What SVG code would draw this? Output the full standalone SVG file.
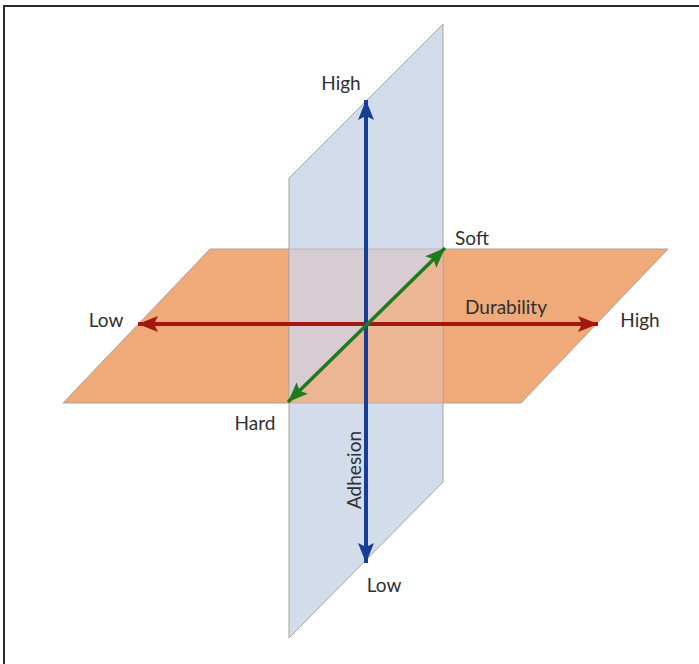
<svg xmlns="http://www.w3.org/2000/svg" width="699" height="664" viewBox="0 0 699 664">
<style>
.lbl{font-family:"Lato","Liberation Sans","DejaVu Sans",sans-serif;font-size:19px;fill:#2f2f2f;text-anchor:middle}
.edge{stroke:#a9a39e;stroke-width:1;stroke-linejoin:round}
</style>
<defs>
<marker id="ar" viewBox="0 0 20 16" refX="20" refY="8" markerWidth="20" markerHeight="16" markerUnits="userSpaceOnUse" orient="auto-start-reverse"><path d="M0,0 L20,8 L0,16 L4,8 Z" fill="#a3170f"/></marker>
<marker id="ab" viewBox="0 0 20 16" refX="20" refY="8" markerWidth="20" markerHeight="16" markerUnits="userSpaceOnUse" orient="auto-start-reverse"><path d="M0,0 L20,8 L0,16 L4,8 Z" fill="#173d97"/></marker>
<marker id="ag" viewBox="0 0 20 16" refX="20" refY="8" markerWidth="20" markerHeight="16" markerUnits="userSpaceOnUse" orient="auto-start-reverse"><path d="M0,0 L20,8 L0,16 L4,8 Z" fill="#1d7a1d"/></marker>
</defs>
<rect width="699" height="664" fill="#ffffff"/>
<path d="M4,664 L4,6 L699,6" fill="none" stroke="#2b2b2b" stroke-width="2"/>
<g id="orange-plane">
<polygon points="210,249 668,249 521,403 63,403" fill="#f0aa7a" class="edge"/>
</g>
<g id="blue-plane">
<polygon points="289,178 443,24 443,482 289,638" fill="#d3dcea" class="edge"/>
</g>
<g id="overlap">
<polygon points="289,249 443,249 289,403" fill="#d8ccd3"/>
<polygon points="443,249 443,403 289,403" fill="#ecb694"/>
<path d="M289,249 L443,249 M289,403 L443,403 M289,249 L289,403 M443,249 L443,403" class="edge" fill="none" opacity="0.6"/>
</g>
<g id="connectors">
<line x1="138" y1="324" x2="598" y2="324" stroke="#a3170f" stroke-width="4" marker-start="url(#ar)" marker-end="url(#ar)"/>
<line x1="366" y1="100" x2="366" y2="563" stroke="#173d97" stroke-width="4" marker-start="url(#ab)" marker-end="url(#ab)"/>
<line x1="445" y1="248" x2="288" y2="402" stroke="#1d7a1d" stroke-width="3.5" marker-start="url(#ag)" marker-end="url(#ag)"/>
</g>
<g id="labels">
<text class="lbl" x="341" y="90">High</text>
<text class="lbl" x="472" y="245">Soft</text>
<text class="lbl" x="106" y="327">Low</text>
<text class="lbl" x="506" y="314">Durability</text>
<text class="lbl" x="640" y="327">High</text>
<text class="lbl" x="255" y="430">Hard</text>
<text class="lbl" x="384" y="592">Low</text>
<text class="lbl" transform="translate(361,470) rotate(-90)">Adhesion</text>
</g>
</svg>
